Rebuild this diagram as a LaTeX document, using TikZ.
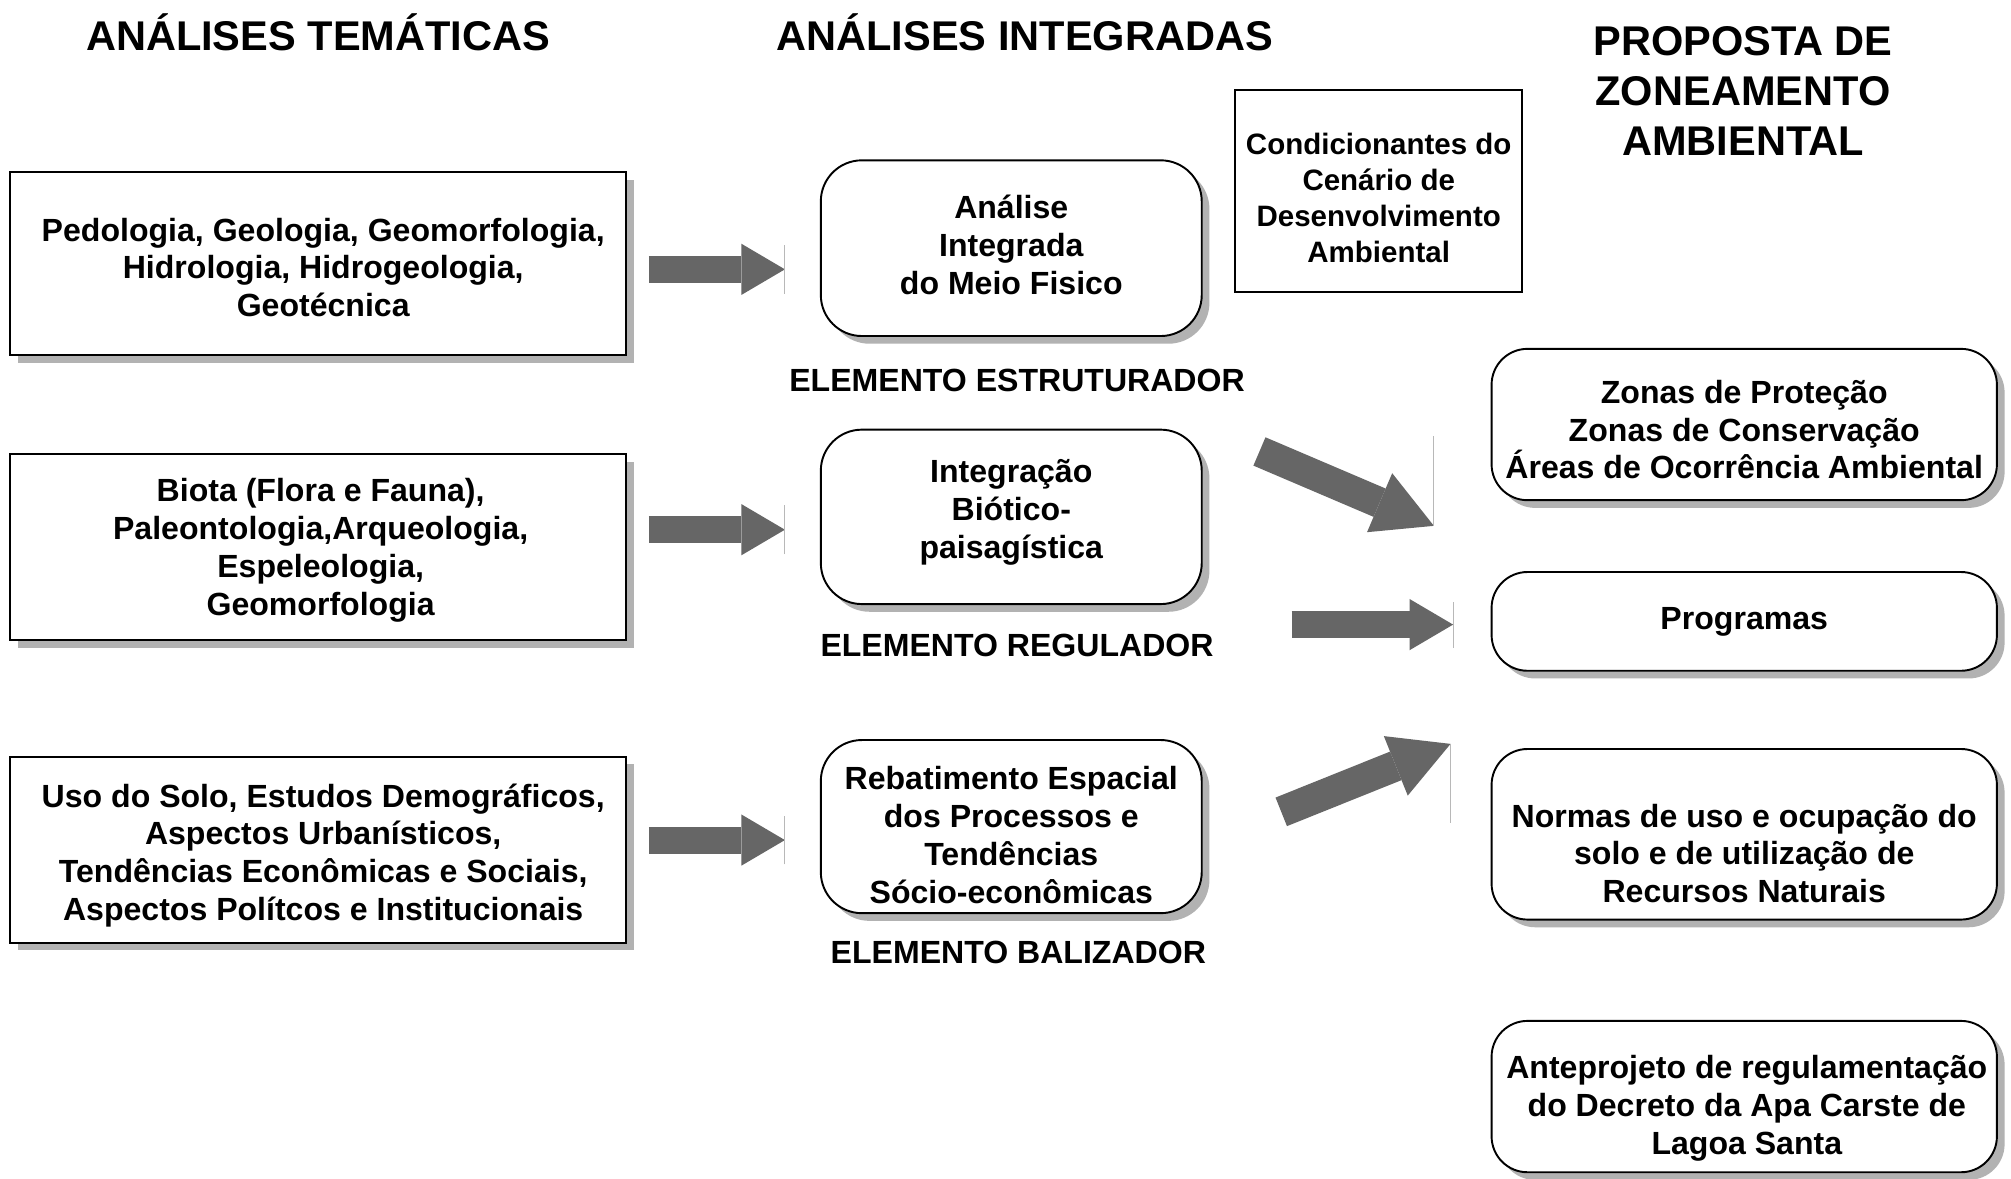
\documentclass[tikz,border=0pt]{standalone}
\usepackage{fontspec}
\setmainfont{Liberation Sans}
\usetikzlibrary{shadows,arrows.meta}
\definecolor{arrowgray}{gray}{0.40}
\definecolor{shadowgray}{gray}{0.70}
\definecolor{tipgray}{gray}{0.72}
\begin{document}
\begin{tikzpicture}[x=1pt,y=-1pt,
  txt/.style={font=\fontsize{25}{29.5}\selectfont\bfseries, align=center, inner sep=0pt},
  smalltxt/.style={font=\fontsize{23}{28}\selectfont\bfseries, align=center, inner sep=0pt},
  head/.style={font=\fontsize{32.4}{39}\selectfont\bfseries, align=center, inner sep=0pt},
  sqbox/.style={draw=black, line width=1.5pt, fill=white, inner sep=0pt,
    drop shadow={shadow xshift=6pt, shadow yshift=-6pt, fill=shadowgray, opacity=1}},
  rbox/.style={sqbox, rounded corners=32pt},
  plainbox/.style={draw=black, line width=1.5pt, fill=white, inner sep=0pt},
  barrow/.style={draw=arrowgray, line width=21pt, -{Triangle[length=34pt,width=40pt,line width=0pt]}},
  darrow/.style={draw=arrowgray, line width=24pt, -{Triangle[length=46pt,width=50pt,line width=0pt]}},
  tipline/.style={draw=tipgray, line width=0.8pt}
]
\useasboundingbox (0,0) rectangle (1568,919);
\fill[white] (0,0) rectangle (1568,919);

% headers
\node[head] (h1) at (248,25) {ANÁLISES TEMÁTICAS};
\node[head] (h2) at (799,25) {ANÁLISES INTEGRADAS};
\node[head] (h3) at (1359,71) {PROPOSTA DE\\ZONEAMENTO\\AMBIENTAL};

% left boxes
\node[sqbox, minimum width=480pt, minimum height=143pt] (b1) at (248,205.5) {};
\node[txt] (t1) at (252,208.5) {Pedologia, Geologia, Geomorfologia,\\Hidrologia, Hidrogeologia,\\Geotécnica};
\node[sqbox, minimum width=480pt, minimum height=145pt] (b2) at (248,426.5) {};
\node[txt] (t2) at (250,429) {Biota (Flora e Fauna),\\Paleontologia,Arqueologia,\\Espeleologia,\\Geomorfologia};
\node[sqbox, minimum width=480pt, minimum height=145pt] (b3) at (248,662.5) {};
\node[txt] (t3) at (252,667) {Uso do Solo, Estudos Demográficos,\\Aspectos Urbanísticos,\\Tendências Econômicas e Sociais,\\Aspectos Polítcos e Institucionais};

% middle boxes
\node[rbox, minimum width=297pt, minimum height=137pt] (m1) at (788.5,193.5) {};
\node[txt] (mt1) at (788.5,191) {Análise\\Integrada\\do Meio Fisico};
\node[txt] (e1) at (793,297) {ELEMENTO ESTRUTURADOR};
\node[rbox, minimum width=297pt, minimum height=136pt] (m2) at (788.5,403) {};
\node[txt] (mt2) at (788.5,399.5) {Integração\\Biótico-\\paisagística};
\node[txt] (e2) at (793,503) {ELEMENTO REGULADOR};
\node[rbox, minimum width=297pt, minimum height=135pt] (m3) at (788.5,644.5) {};
\node[txt] (mt3) at (788.5,651) {Rebatimento Espacial\\dos Processos e\\Tendências\\Sócio-econômicas};
\node[txt] (e3) at (794,743) {ELEMENTO BALIZADOR};

% condicionantes
\node[plainbox, minimum width=224pt, minimum height=158pt] (c1) at (1075,149) {};
\node[smalltxt] (ct1) at (1075,154.5) {Condicionantes do\\Cenário de\\Desenvolvimento\\Ambiental};

% right boxes
\node[rbox, rounded corners=28pt, minimum width=394pt, minimum height=118pt] (r1) at (1360,331) {};
\node[txt] (rt1) at (1360,335) {Zonas de Proteção\\Zonas de Conservação\\Áreas de Ocorrência Ambiental};
\node[rbox, rounded corners=28pt, minimum width=394pt, minimum height=77pt] (r2) at (1360,484.5) {};
\node[txt] (rt2) at (1360,484.5) {Programas};
\node[rbox, rounded corners=28pt, minimum width=394pt, minimum height=133pt] (r3) at (1360,650.5) {};
\node[txt] (rt3) at (1360,665.5) {Normas de uso e ocupação do\\solo e de utilização de\\Recursos Naturais};
\node[rbox, rounded corners=28pt, minimum width=394pt, minimum height=118pt] (r4) at (1360,855) {};
\node[txt] (rt4) at (1362,864) {Anteprojeto de regulamentação\\do Decreto da Apa Carste de\\Lagoa Santa};

% arrow coordinates
\coordinate (l1s) at (506,210); \coordinate (l1e) at (612,210);
\coordinate (l2s) at (506,413); \coordinate (l2e) at (612,413);
\coordinate (l3s) at (506,655); \coordinate (l3e) at (612,655);
\coordinate (d1s) at (982,352); \coordinate (d1e) at (1118,410);
\coordinate (d2s) at (1007,487); \coordinate (d2e) at (1133,487);
\coordinate (d3s) at (999,633); \coordinate (d3e) at (1131,580);

\draw[barrow] (l1s) -- (l1e);
\draw[barrow] (l2s) -- (l2e);
\draw[barrow] (l3s) -- (l3e);
\draw[darrow] (d1s) -- (d1e);
\draw[barrow] (d2s) -- (d2e);
\draw[darrow] (d3s) -- (d3e);

% thin edge lines at the arrow tips
\draw[tipline] ([yshift=-19pt]l1e) -- ([yshift=19pt]l1e);
\draw[tipline] ([yshift=-19pt]l2e) -- ([yshift=19pt]l2e);
\draw[tipline] ([yshift=-19pt]l3e) -- ([yshift=19pt]l3e);
\draw[tipline] ([yshift=70pt]d1e) -- (d1e);
\draw[tipline] ([yshift=-18pt]d2e) -- ([yshift=18pt]d2e);
\draw[tipline] (d3e) -- ([yshift=-62pt]d3e);
\end{tikzpicture}
\end{document}
